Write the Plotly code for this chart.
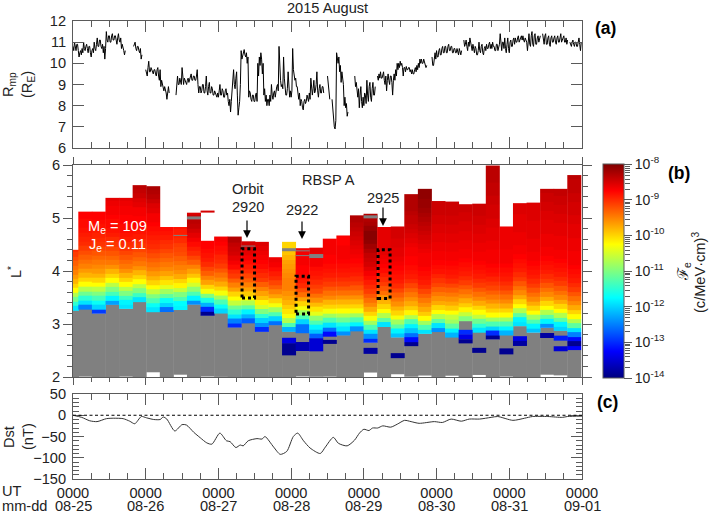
import plotly.graph_objects as go

# ---------- panel (a): magnetopause standoff, quarter-hourly readings per day (None = data gap)
G2, G4, G6, G8, G10 = [None]*2, [None]*4, [None]*6, [None]*8, [None]*10
rmp_day0 = [10.8,10.6,11.0,10.7,10.6,10.9,10.9,10.6,10.3,10.5,10.6,10.4,10.7,10.5,11.0,10.7,10.6,10.8,10.9,10.7,10.5,10.8,10.8,10.5,10.3,10.6,10.7,10.5,11.0,10.7,10.6,10.9,
            11.2,10.8,10.8,11.1,11.1,10.8,10.7,10.9,10.5,10.8,10.2,10.7,11.5,11.1,11.0,11.3,11.3,11.0,11.0,11.3,11.4,11.1,11.1,11.3,11.3,11.1,10.9,11.2,11.4,11.1,11.0,11.2,
            10.7,10.9,10.8,10.6,10.4,10.6] + G10 + [10.8,11.0,11.0,10.7,10.6,10.8,10.8,10.6,10.5,10.7,10.2,10.4] + G4
rmp_day1 = [9.7,9.5,9.4,9.8,10.1,9.6,9.6,9.8,9.7,9.5,9.5,9.7,9.7,9.5,9.4,9.7,9.8,9.4,9.2,9.7,8.9,9.2,9.0,8.8,8.7,8.9,8.8,8.6,8.3,8.6,8.9,8.6] + G8 + [
            8.5,8.9,9.4,9.0,9.0,9.3,9.2,9.0,9.8,9.1,9.0,9.3,9.2,9.0,9.0,9.2,9.3,9.1,9.2,9.4,9.5,9.2,9.2,9.4,9.4,9.2,9.2,9.4,9.7,9.0,8.6,8.9,8.9,8.6,8.7,9.0,9.0,8.6,8.6,8.9,
            9.4,8.7,8.5,8.9,9.1,8.6,8.6,8.9,8.8,8.5,8.5,8.7,8.6,8.4,8.4,8.6]
rmp_day2 = [8.4,8.7,9.0,8.5,8.5,8.8,8.7,8.4,8.4,8.7,8.8,8.5,8.6,8.2,8.0,8.3,7.7,8.2,8.6,9.0,9.7,9.0,8.8,9.3,9.6,8.5,7.55,7.9,8.2,9.0,10.6,10.2,10.4,10.6,10.65,10.4,10.3,10.5,
            10.0,10.3,8.4,8.7,8.6,8.3,8.2,8.5,8.5,8.2,8.2,8.5,8.6,8.2,10.0,9.4,10.3,9.9,10.5,10.2,9.5,10.0,8.5,8.8,8.2,8.5,8.0,8.3,8.3,8.0,8.5,8.2,9.0,8.5,8.3,8.6,8.7,8.4,8.7,8.9,
            9.0,8.7,10.8,9.6,9.2,8.9,9.0,8.8,10.3,9.3,8.7,8.5,8.5,8.8,9.6,8.8,8.4,8.7]
rmp_day3 = [8.4,8.7,10.7,9.7,9.5,9.2,9.3,8.9,8.9,8.4,8.3,8.6,8.0,8.3,8.2,7.9,7.8,8.2,8.3,8.1,8.2,8.5,8.4,8.2,8.6,8.3,9.3,8.6,8.5,8.8,9.2,8.6,8.7,9.0,9.6,8.7,8.4,8.8,9.0,8.6,8.6,8.9,8.9,8.6] + G4 + [
            9.4,8.9,8.6,8.3] + G2 + [8.3,7.8,7.3,7.0,6.9,7.3,10.5,10.2,10.0,10.3,9.6,9.9,9.1,9.6,9.4,9.0,8.0,8.4,7.9,8.1,7.5,7.7] + G8 + [9.4,8.9,9.1,8.6,8.4,8.8,7.9,8.5,8.9,8.2,7.9,8.4]
rmp_day4 = [8.0,8.6,8.5,8.1,9.2,8.5,8.2,8.9,9.1,8.4,8.2,8.8,9.1,8.5,8.5,8.9] + G2 + [9.4,9.2,9.5,9.3,9.6,9.3,9.3,9.5,9.6,9.2,9.0,9.4,8.7,9.2,9.5,9.2,9.0,9.4,9.4,9.1,8.5,9.2,9.5,9.2,9.7,9.4,
            10.0,9.7,10.0,9.8,10.1,9.9,10.0,9.8,9.4,9.8,9.8,9.6,9.85,9.7,9.7,9.8,9.8,9.6,9.7,9.5,9.7,9.5,9.5,9.7,9.8,9.6,9.9,9.7,10.0,9.8,10.2,10.0,10.2,10.0,10.0,10.2,10.0,9.8,9.8,9.9] + G6 + [
            10.3,9.9,9.9,10.2,10.5,10.2]
rmp_day5 = [10.6,10.3,10.3,10.6,10.7,10.4,10.4,10.7,10.8,10.5,10.5,10.8,10.8,10.5,10.5,10.8,10.9,10.6,10.6,10.8,10.8,10.5,10.5,10.7,10.7,10.5,10.5,10.7,10.6,10.4,10.7,10.5,10.4,10.6] + G2 + [
            11.1,10.8,10.9,11.1,10.8,10.6,11.0,10.8,11.2,10.9,10.8,10.6,10.9,10.7,10.5,10.8,10.7,10.4,10.4,10.6,11.0,10.6,10.5,10.8,10.9,10.5,10.4,10.7,10.8,10.6,10.9,10.7,10.7,10.9,11.0,10.7,
            10.9,10.7,11.0,10.8,10.8,10.6,10.6,10.9,10.9,10.6,10.7,10.9,11.4,10.7,10.6,11.0,11.0,10.7,11.2,10.7,10.5,10.9,11.2,10.7]
rmp_day6 = [10.5,11.0,11.1,10.8,10.8,11.1,11.2,10.9,11.2,11.0,11.0,11.2,11.3,11.0,11.1,11.3,11.3,11.1,11.3,11.1,11.0,11.2,11.1,11.0,10.6,11.1,11.4,10.9,10.8,11.3,11.5,10.9,10.8,11.3,11.4,10.9,
            10.9,11.2,11.3,11.0,11.1,11.3] + G2 + [11.4,11.0,10.9,11.3,11.4,10.9,10.9,11.2,11.3,10.9,10.8,11.2,11.3,11.0,11.0,11.2,11.3,11.0,10.9,11.2,11.3,11.0,11.0,11.2,11.4,11.0,11.1,11.3,
            11.3,11.0,11.0,11.2,10.9,11.1] + G2 + [11.0,10.8,10.8,11.0,11.1,10.9,10.8,11.0,11.0,10.8,10.8,11.0,11.2,10.9,10.6,11.0]
rmp_days = [rmp_day0, rmp_day1, rmp_day2, rmp_day3, rmp_day4, rmp_day5, rmp_day6]

# ---------- panel (b): one column per half orbit
col_start = 0.073      # first interior column edge, days
col_width = 0.1868     # half-orbit width, days
col_overlap = 0.008    # columns touch in the reference; hides raster seams
bin_height = 0.085     # L* height of one flux bin
base_L = [3.25,3.28,3.19,3.36,3.28,3.42,3.23,3.23,3.26,3.36,3.15,3.20,2.93,3.02,2.85,2.97,2.85,2.83,2.73,
          2.77,2.78,2.87,2.64,2.95,2.74,2.58,2.81,2.84,2.75,3.06,2.84,2.70,2.79,2.95,2.83,2.92,2.87,2.50]
top_L = [4.40,5.12,5.12,5.38,5.38,5.62,5.60,4.83,4.83,5.10,4.57,4.65,4.65,4.56,4.55,4.26,4.55,4.43,4.44,
         4.61,4.67,5.05,5.08,4.83,4.84,5.45,5.55,5.32,5.31,5.26,5.27,5.99,4.84,5.28,5.29,5.55,5.55,5.81]
gray_bottom = [2,2,2,2,2,2,2.09,2,2.04,2,2,2,2,2,2,2,2,2.01,2,2,2,2,2.09,2,2.06,2,2.02,2,2.02,2,2.03,2,2,2,2,2.04,2.04,2]
flux = [
 [-11.9,-11.5,-11.1,-10.7,-10.25,-10.0,-9.8,-9.65,-9.5,-9.4,-9.3,-9.2,-9.1,-9.0],
 [-12.5,-11.9,-11.5,-11.1,-10.7,-10.25,-10.0,-9.8,-9.65,-9.5,-9.4,-9.3,-9.2,-9.1,-9.0,-8.95,-8.9,-8.85,-8.8,-8.8,-8.75,-8.75],
 [-12.9,-12.0,-11.7,-11.35,-11.0,-10.65,-10.25,-10.0,-9.8,-9.65,-9.55,-9.45,-9.35,-9.25,-9.15,-9.05,-9.0,-8.95,-8.9,-8.85,-8.8,-8.75,-8.75],
 [-12.3,-11.8,-11.35,-11.0,-10.65,-10.25,-10.0,-9.8,-9.6,-9.45,-9.35,-9.25,-9.15,-9.05,-9.0,-8.9,-8.85,-8.8,-8.8,-8.75,-8.7,-8.7,-8.65,-8.6],
 [-11.9,-11.8,-11.4,-11.0,-10.65,-10.25,-10.0,-9.8,-9.6,-9.45,-9.35,-9.25,-9.15,-9.05,-9.0,-8.9,-8.85,-8.8,-8.8,-8.75,-8.75,-8.7,-8.7,-8.65,-8.6],
 [-11.9,-11.4,-11.0,-10.65,-10.25,-10.0,-9.8,-9.6,-9.45,-9.35,-9.25,-9.15,-9.05,-9.0,-8.9,-8.85,-8.8,-8.75,-8.75,-8.7,-8.7,-8.6,-8.55,-8.45,-8.4,-8.35],
 [-11.9,-11.7,-11.3,-11.0,-10.6,-10.25,-10.0,-9.8,-9.65,-9.5,-9.4,-9.3,-9.2,-9.1,-9.0,-8.95,-8.9,-8.85,-8.8,-8.75,-8.7,-8.7,-8.6,-8.55,-8.45,-8.35,-8.3,-8.25],
 [-12.6,-12.0,-11.7,-11.2,-10.8,-10.4,-10.1,-9.9,-9.7,-9.55,-9.45,-9.35,-9.25,-9.15,-9.05,-9.0,-8.9,-8.85,-8.8],
 [-11.8,-11.75,-11.3,-11.0,-10.6,-10.2,-10.0,-9.75,-9.6,-9.5,-9.4,-9.3,-9.2,-9.15,-9.1,-9.0,-8.95,-8.9,-8.85],
 [-12.4,-11.8,-11.3,-10.9,-10.5,-10.2,-9.9,-9.7,-9.5,-9.3,-9.15,-9.0,-8.9,-8.8,-8.7,-8.6,-8.5,-8.4,-8.35,-8.45,-8.55],
 [-13.9,-13.0,-12.2,-11.6,-11.0,-10.3,-10.0,-9.7,-9.5,-9.3,-9.15,-9.0,-8.9,-8.85,-8.8,-8.75,-8.75],
 [-12.0,-11.7,-11.3,-10.8,-10.3,-10.0,-9.75,-9.55,-9.4,-9.25,-9.1,-9.0,-8.95,-8.85,-8.8,-8.75,-8.7],
 [-13.0,-12.5,-11.9,-11.5,-11.1,-10.6,-10.25,-10.0,-9.7,-9.5,-9.3,-9.1,-9.0,-8.8,-8.7,-8.6,-8.5,-8.45,-8.4,-8.3],
 [-12.7,-12.2,-11.8,-11.2,-10.7,-10.25,-9.95,-9.7,-9.5,-9.3,-9.15,-9.0,-8.9,-8.8,-8.7,-8.6,-8.55,-8.5],
 [-13.0,-12.4,-12.0,-11.5,-11.0,-10.5,-10.2,-9.9,-9.7,-9.5,-9.3,-9.1,-9.0,-8.9,-8.8,-8.75,-8.7,-8.65,-8.6,-8.55],
 [-12.6,-12.0,-11.3,-10.8,-10.3,-10.0,-9.7,-9.5,-9.3,-9.15,-9.0,-8.9,-8.8,-8.7,-8.65],
 [-12.2,-11.3,-10.7,-10.3,-10.1,-9.95,-9.8,-9.7,-9.6,-9.5,-9.5,-9.5,-9.55,-9.6,-9.65,-9.7,-9.8,-9.9,-10.0,-10.0],
 [-12.6,-12.6,-12.0,-11.3,-10.8,-10.3,-10.0,-9.7,-9.4,-9.2,-9.0,-8.9,-8.8,-8.75,-8.75,-8.7,-8.7,-8.7,-8.7],
 [-12.7,-12.1,-11.8,-11.3,-10.9,-10.4,-10.1,-9.85,-9.6,-9.4,-9.2,-9.1,-9.0,-8.9,-8.85,-8.8,-8.7,-8.7,-8.65,-8.6,-8.6],
 [-13.2,-12.6,-11.9,-11.3,-10.8,-10.3,-10.0,-9.8,-9.55,-9.4,-9.25,-9.1,-9.0,-8.9,-8.85,-8.8,-8.75,-8.75,-8.7,-8.7,-8.7,-8.7],
 [-12.4,-11.9,-11.6,-11.1,-10.7,-10.25,-10.0,-9.8,-9.6,-9.4,-9.25,-9.1,-9.0,-8.9,-8.85,-8.8,-8.75,-8.7,-8.7,-8.7,-8.75,-8.75,-8.7],
 [-12.4,-11.8,-11.3,-10.8,-10.3,-10.0,-9.8,-9.6,-9.4,-9.25,-9.1,-9.0,-8.9,-8.85,-8.8,-8.75,-8.7,-8.65,-8.6,-8.55,-8.5,-8.45,-8.4,-8.35,-8.3,-8.3],
 [-13.0,-12.4,-11.9,-11.3,-10.8,-10.3,-10.0,-9.75,-9.55,-9.4,-9.25,-9.1,-9.0,-8.9,-8.8,-8.7,-8.6,-8.5,-8.45,-8.4,-8.3,-8.2,-8.1,-8.05,-8.05,-8.15,-8.25,-8.3,-8.3],
 [-11.9,-11.2,-10.7,-10.25,-10.0,-9.8,-9.6,-9.4,-9.25,-9.1,-9.0,-8.9,-8.8,-8.75,-8.7,-8.65,-8.6,-8.6,-8.6,-8.6,-8.6,-8.6,-8.6],
 [-12.1,-11.8,-11.2,-10.8,-10.3,-10.0,-9.8,-9.6,-9.45,-9.3,-9.15,-9.0,-8.9,-8.85,-8.8,-8.75,-8.7,-8.65,-8.6,-8.6,-8.55,-8.55,-8.5,-8.5,-8.5],
 [-13.9,-13.2,-12.6,-12.1,-11.8,-11.3,-10.7,-10.2,-9.95,-9.75,-9.6,-9.45,-9.3,-9.15,-9.0,-8.9,-8.85,-8.8,-8.75,-8.75,-8.7,-8.7,-8.65,-8.6,-8.55,-8.5,-8.45,-8.4,-8.4,-8.35,-8.3,-8.3,-8.3,-8.3],
 [-11.9,-11.3,-10.8,-10.25,-9.95,-9.75,-9.6,-9.45,-9.3,-9.15,-9.0,-8.9,-8.85,-8.8,-8.75,-8.7,-8.7,-8.7,-8.65,-8.6,-8.55,-8.5,-8.45,-8.4,-8.35,-8.3,-8.25,-8.2,-8.15,-8.15,-8.1,-8.1],
 [-12.4,-11.9,-11.2,-10.7,-10.25,-10.0,-9.75,-9.6,-9.45,-9.3,-9.15,-9.05,-8.95,-8.85,-8.8,-8.75,-8.7,-8.7,-8.65,-8.65,-8.6,-8.6,-8.55,-8.55,-8.5,-8.5,-8.45,-8.45,-8.45],
 [-12.2,-11.8,-11.2,-10.8,-10.6,-10.25,-9.95,-9.75,-9.6,-9.45,-9.3,-9.15,-9.0,-8.9,-8.85,-8.8,-8.75,-8.7,-8.7,-8.65,-8.65,-8.6,-8.6,-8.55,-8.55,-8.5,-8.5,-8.45,-8.45,-8.45],
 [-11.0,-10.6,-10.2,-9.95,-9.75,-9.55,-9.4,-9.25,-9.1,-9.0,-8.9,-8.85,-8.8,-8.75,-8.7,-8.7,-8.65,-8.65,-8.6,-8.6,-8.55,-8.55,-8.5,-8.5,-8.45,-8.45],
 [-11.9,-11.5,-11.1,-10.6,-10.25,-10.0,-9.75,-9.55,-9.4,-9.25,-9.1,-9.0,-8.9,-8.85,-8.8,-8.75,-8.7,-8.7,-8.65,-8.65,-8.6,-8.6,-8.55,-8.55,-8.5,-8.5,-8.45,-8.45,-8.45],
 [-13.9,-13.0,-12.0,-11.3,-10.8,-10.25,-10.0,-9.8,-9.6,-9.45,-9.3,-9.15,-9.05,-8.95,-8.85,-8.8,-8.75,-8.7,-8.7,-8.7,-8.65,-8.65,-8.6,-8.6,-8.6,-8.55,-8.55,-8.5,-8.5,-8.5,-8.45,-8.45,-8.4,-8.4,-8.4,-8.35,-8.35,-8.35,-8.35],
 [-12.2,-11.8,-11.3,-10.8,-10.25,-10.0,-9.75,-9.55,-9.4,-9.25,-9.1,-9.0,-8.9,-8.85,-8.8,-8.75,-8.7,-8.7,-8.7,-8.65,-8.65,-8.65,-8.65,-8.65,-8.65],
 [-11.9,-11.8,-11.2,-10.7,-10.25,-10.0,-9.75,-9.55,-9.4,-9.25,-9.1,-9.0,-8.9,-8.85,-8.8,-8.75,-8.7,-8.7,-8.65,-8.65,-8.65,-8.6,-8.6,-8.6,-8.6,-8.55,-8.55,-8.55],
 [-12.1,-11.8,-11.3,-10.8,-10.25,-10.0,-9.75,-9.55,-9.4,-9.25,-9.1,-9.0,-8.9,-8.85,-8.8,-8.75,-8.7,-8.7,-8.65,-8.65,-8.65,-8.6,-8.6,-8.6,-8.6,-8.55,-8.55,-8.55,-8.55],
 [-12.4,-11.8,-11.2,-10.7,-10.25,-10.0,-9.75,-9.55,-9.4,-9.25,-9.1,-9.0,-8.9,-8.85,-8.8,-8.75,-8.7,-8.7,-8.65,-8.65,-8.65,-8.6,-8.6,-8.6,-8.55,-8.55,-8.5,-8.5,-8.45,-8.45,-8.4],
 [-12.0,-11.8,-11.2,-10.7,-10.25,-10.0,-9.75,-9.55,-9.4,-9.25,-9.1,-9.0,-8.9,-8.85,-8.8,-8.75,-8.7,-8.7,-8.65,-8.65,-8.65,-8.6,-8.6,-8.6,-8.55,-8.55,-8.5,-8.5,-8.45,-8.45,-8.4,-8.4],
 [-13.25,-13.9,-13.2,-12.5,-11.9,-11.2,-10.7,-10.25,-10.0,-9.75,-9.55,-9.4,-9.25,-9.1,-9.0,-8.9,-8.85,-8.8,-8.75,-8.7,-8.7,-8.7,-8.65,-8.65,-8.65,-8.6,-8.6,-8.6,-8.55,-8.55,-8.5,-8.5,-8.5,-8.45,-8.45,-8.4,-8.4,-8.4,-8.35],
]
# isolated flux patches below the main stack (plus one above it)
patch_col = [10,16,16,17,18,19,22,24,29,29,29,30,32,33,33,35,36,36]
patch_lo  = [5.11,2.635,2.40,2.49,2.49,2.62,2.43,2.36,2.80,2.71,2.63,2.45,2.43,2.68,2.59,2.74,2.68,2.48]
patch_hi  = [5.14,2.74,2.635,2.66,2.73,2.70,2.55,2.45,2.89,2.80,2.71,2.55,2.54,2.77,2.68,2.83,2.78,2.58]
patch_val = [-8.5,-13.4,-13.9,-13.7,-13.5,-13.9,-13.8,-13.9,-13.0,-13.4,-13.9,-13.9,-13.9,-13.4,-13.8,-13.8,-13.1,-13.5]
# thin fill-value strips high in the columns
strip_col = [8,9,13,16,17,17,18,22]
strip_lo  = [4.66,4.98,4.46,4.38,4.37,4.28,4.25,4.99]
strip_hi  = [4.68,5.03,4.48,4.43,4.39,4.30,4.32,5.05]

day_ticks = [0,1,2,3,4,5,6,7]
time_labels = ['0000']*8
date_labels = ['08-25','08-26','08-27','08-28','08-29','08-30','08-31','09-01']
cbar_vals = [-14,-13,-12,-11,-10,-9,-8]
cbar_text = ['10<sup>-14</sup>','10<sup>-13</sup>','10<sup>-12</sup>','10<sup>-11</sup>','10<sup>-10</sup>','10<sup>-9</sup>','10<sup>-8</sup>']

# ---------- panel (c): Dst
dst_day = [0,.12,.23,.33,.46,.56,.69,.78,.85,.94,1.01,1.11,1.20,1.24,1.29,1.40,1.50,1.56,1.66,1.75,1.84,1.91,2.02,2.11,2.16,2.24,2.30,2.34,2.41,
           2.53,2.60,2.64,2.76,2.85,2.94,3.03,3.09,3.17,3.26,3.40,3.47,3.58,3.65,3.77,3.87,3.94,4.00,4.07,4.12,4.19,4.26,4.37,4.46,4.56,4.65,
           4.76,4.97,5.08,5.20,5.34,5.45,5.59,5.75,5.84,6.05,6.21,6.32,6.53,6.73,6.80,7]
dst_val = [0,-5,-13,-15,-8,-7,-8,-14,-20,-3,-6,-10,-10,-4,-9,-37,-22,-23,-40,-53,-65,-68,-42,-60,-62,-76,-70,-72,-60,
           -55,-56,-50,-75,-92,-85,-50,-42,-60,-77,-90,-75,-52,-66,-72,-59,-42,-33,-36,-30,-30,-25,-28,-21,-12,-15,
           -19,-15,-17,-9,-14,-9,-9,-5,-3,-12,-7,-3,-3,-5,-3,-2]

W, H = 709, 514
def fx(p): return p / W
def fy(p): return 1 - p / H

FONT = 'Liberation Sans, Arial, sans-serif'
AX = '#5a5a5a'
TXT = '#222222'
jet = [[0,'#00007f'],[0.125,'#0000ff'],[0.375,'#00ffff'],[0.625,'#ffff00'],[0.875,'#ff0000'],[1,'#7f0000']]
gray_scale = [[0,'#808080'],[1,'#808080']]

fig = go.Figure()

# panel a
xs, ys = [], []
for d, vals in enumerate(rmp_days):
    for i, v in enumerate(vals):
        xs.append(d + i / len(vals))
        ys.append(v)
fig.add_trace(go.Scatter(x=xs, y=ys, mode='lines', line=dict(color='black', width=1), xaxis='x', yaxis='y',
                         showlegend=False, hoverinfo='skip'))

# panel b
def edges_of(k):
    if k == 0:
        return 0, col_start + col_overlap
    return col_start + (k - 1) * col_width, min(7, col_start + k * col_width + col_overlap)

for k in range(len(base_L)):
    x0, x1 = edges_of(k)
    fig.add_trace(go.Heatmap(x=[x0, x1], y=[gray_bottom[k], base_L[k] + 0.01], z=[[1]], colorscale=gray_scale, showscale=False,
                             xaxis='x2', yaxis='y2', hoverinfo='skip'))
for k, vals in enumerate(flux):
    x0, x1 = edges_of(k)
    edges, used = [base_L[k]], []
    for v in vals:
        nxt = edges[-1] + bin_height
        used.append(v)
        if nxt >= top_L[k] - 0.02:
            edges.append(top_L[k])
            break
        edges.append(nxt)
    if edges[-1] < top_L[k]:
        edges[-1] = top_L[k]
    fig.add_trace(go.Heatmap(x=[x0, x1], y=edges, z=[[v] for v in used], coloraxis='coloraxis',
                             xaxis='x2', yaxis='y2', hoverinfo='skip'))
for c, lo, hi, v in zip(patch_col, patch_lo, patch_hi, patch_val):
    x0, x1 = edges_of(c)
    fig.add_trace(go.Heatmap(x=[x0, x1], y=[lo, hi], z=[[v]], coloraxis='coloraxis', xaxis='x2', yaxis='y2', hoverinfo='skip'))
for c, lo, hi in zip(strip_col, strip_lo, strip_hi):
    x0, x1 = edges_of(c)
    fig.add_trace(go.Heatmap(x=[x0, x1], y=[lo, hi], z=[[1]], colorscale=gray_scale, showscale=False,
                             xaxis='x2', yaxis='y2', hoverinfo='skip'))

# minor ticks for the colour bar
minor_vals = [m * 10.0 ** e for e in range(-14, -8) for m in (2, 3, 4, 5, 6, 7, 8, 9)]
fig.add_trace(go.Scatter(x=[0.5], y=[1e-10], mode='markers', marker=dict(opacity=0), xaxis='x4', yaxis='y4',
                         showlegend=False, hoverinfo='skip'))

# panel c
fig.add_trace(go.Scatter(x=dst_day, y=dst_val, mode='lines', line=dict(color='#333333', width=1, shape='spline', smoothing=0.7),
                         xaxis='x3', yaxis='y3', showlegend=False, hoverinfo='skip'))

common = dict(showline=True, linecolor=AX, linewidth=1, showgrid=False, zeroline=False, tickcolor=AX, tickwidth=1)
xcommon = dict(range=[0, 7], tickvals=day_ticks, **common)
TF = dict(size=14.6, family=FONT, color=TXT)

def xminor(side):
    return dict(ticks=side, ticklen=6, tickcolor=AX, tickwidth=1, dtick=0.25, tick0=0, showgrid=False)

layout_axes = dict(
    xaxis=dict(domain=[fx(73), fx(582)], anchor='y', ticks='inside', ticklen=11, mirror='ticks', showticklabels=False,
               minor=xminor('inside'), **xcommon),
    yaxis=dict(domain=[fy(148), fy(21)], anchor='x', range=[6, 12], tickvals=[6,7,8,9,10,11,12], ticks='inside', ticklen=11,
               mirror='ticks', tickfont=TF, ticklabelstandoff=3, **common),
    xaxis2=dict(domain=[fx(73), fx(582)], anchor='y2', ticks='outside', ticklen=7, mirror='ticks', showticklabels=False,
                minor=xminor('outside') | dict(ticklen=4), **xcommon),
    yaxis2=dict(domain=[fy(377), fy(165)], anchor='x2', range=[2, 6], tickvals=[2,3,4,5,6], ticks='outside', ticklen=9,
                mirror='ticks', tickfont=TF,
                minor=dict(ticks='outside', ticklen=5, tickcolor=AX, tickwidth=1, dtick=0.2, tick0=2, showgrid=False), **common),
    xaxis3=dict(domain=[fx(73), fx(582)], anchor='y3', ticks='inside', ticklen=11, mirror='ticks', ticktext=time_labels,
                tickfont=TF, ticklabelstandoff=0, minor=xminor('inside'), **xcommon),
    yaxis3=dict(domain=[fy(479), fy(394)], anchor='x3', range=[-150, 50], tickvals=[-150,-100,-50,0,50], ticks='inside', ticklen=11,
                mirror='ticks', tickfont=TF, ticklabelstandoff=3,
                minor=dict(ticks='inside', ticklen=6, tickcolor=AX, tickwidth=1, dtick=10, tick0=-150, showgrid=False), **common),
    xaxis4=dict(domain=[fx(602.7), fx(624)], anchor='y4', range=[0, 1], visible=False),
    yaxis4=dict(domain=[fy(378), fy(165)], anchor='x4', side='right', type='log', range=[-14, -8],
                tickvals=minor_vals, ticks='outside', ticklen=5, tickcolor=AX, tickwidth=1, showticklabels=False, showgrid=False,
                showline=False, zeroline=False),
)

def note(text, px, py, size=14.6, color=TXT, angle=0, bold=False):
    return dict(text=f'<b>{text}</b>' if bold else text, x=fx(px), y=fy(py), xref='paper', yref='paper', showarrow=False,
                xanchor='center', yanchor='middle', textangle=angle, font=dict(family=FONT, size=size, color=color))

annots = [
    note('2015 August', 327, 8),
    note('(a)', 605, 28, 17.5, 'black', bold=True),
    note('(b)', 679, 173, 17.5, 'black', bold=True),
    note('(c)', 607, 402, 17.5, 'black', bold=True),
    note('R<sub>mp</sub>', 9, 85, angle=-90),
    note('(R<sub>E</sub>)', 28, 85, angle=-90),
    note('L<sup>*</sup>', 15, 272, angle=-90),
    note('Dst', 9, 437, angle=-90),
    note('(nT)', 28, 437, angle=-90),
    note('ℱ<sub>e</sub>', 683, 272, 15, angle=-90),
    note('(c/MeV·cm)<sup>3</sup>', 699, 273, angle=-90),
    note('RBSP A', 328, 180),
    note('Orbit', 248, 189),
    note('2920', 248, 207),
    note('2922', 302, 210),
    note('2925', 383, 198),
    note('M<sub>e</sub> = 109', 117, 227, color='white'),
    note('J<sub>e</sub> = 0.11', 117, 245, color='white'),
    dict(text='UT', x=0, y=fy(491), xref='paper', yref='paper', xanchor='left', yanchor='middle', showarrow=False, font=TF),
    dict(text='mm-dd', x=0, y=fy(506), xref='paper', yref='paper', xanchor='left', yanchor='middle', showarrow=False, font=TF),
]
for d, lab in zip(day_ticks, date_labels):
    annots.append(dict(text=lab, x=d, y=fy(506), xref='x3', yref='paper', xanchor='center', yanchor='middle', showarrow=False, font=TF))
for px, y0, y1 in [(247, 219, 238), (302, 220, 239), (383, 206, 226)]:
    annots.append(dict(x=fx(px), y=fy(y1), ax=0, ay=y0 - y1, xref='paper', yref='paper', text='',
                       showarrow=True, arrowhead=2, arrowsize=1.3, arrowwidth=1.2, arrowcolor='black'))

def rect(px0, px1, L0, L1):
    d0, d1 = (px0 - 73) / 72.7, (px1 - 73) / 72.7
    return dict(type='rect', xref='x2', yref='y2', x0=d0, x1=d1, y0=L0, y1=L1,
                line=dict(color='black', width=3, dash='3px,3px'), layer='above')

shapes = [
    rect(242, 254.5, 3.49, 4.42),
    rect(296, 308.5, 3.19, 3.90),
    rect(378, 390, 3.48, 4.40),
    dict(type='line', xref='x3', yref='y3', x0=0, x1=7, y0=0, y1=0, line=dict(color='black', width=1, dash='3px,2.5px'), layer='above'),
]

fig.update_layout(
    width=W, height=H, margin=dict(l=0, r=0, t=0, b=0, autoexpand=False), paper_bgcolor='white', plot_bgcolor='rgba(0,0,0,0)',
    showlegend=False, font=dict(family=FONT, size=14, color=TXT), annotations=annots, shapes=shapes,
    coloraxis=dict(cmin=-14, cmax=-8, colorscale=jet, colorbar=dict(
        x=fx(602.7), xanchor='left', xpad=0, y=fy(378), yanchor='bottom', ypad=0, len=213.5 / H, lenmode='fraction',
        thickness=21.3, thicknessmode='pixels', outlinecolor=AX, outlinewidth=1, ticks='outside', ticklen=8, tickcolor=AX, tickwidth=1,
        tickvals=cbar_vals, ticktext=cbar_text, tickfont=dict(family=FONT, size=14, color=TXT))),
    **layout_axes,
)
fig.write_html('out.html', config={'displayModeBar': False}, post_script="document.body.style.margin='0';")
